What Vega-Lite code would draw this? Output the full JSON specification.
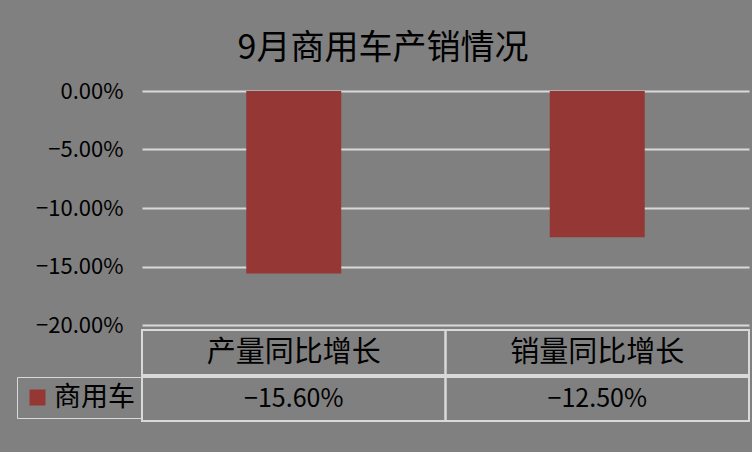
{
  "$schema": "https://vega.github.io/schema/vega-lite/v6.json",
  "background": "#808080",
  "padding": {"left": 16, "top": 32, "right": 4, "bottom": 45},
  "datasets": {
    "d": [
      {"指标": "产量同比增长", "value": -0.156, "系列": "商用车"},
      {"指标": "销量同比增长", "value": -0.125, "系列": "商用车"}
    ]
  },
  "config": {
    "view": {"stroke": null},
    "font": "Noto Sans CJK SC"
  },
  "spacing": 5,
  "bounds": "flush",
  "resolve": {"legend": {"color": "independent"}, "scale": {"color": "independent"}},
  "vconcat": [
    {
      "title": {
        "text": "9月商用车产销情况",
        "font": "Noto Sans CJK SC",
        "fontSize": 34,
        "fontWeight": "normal",
        "color": "#000000",
        "anchor": "middle",
        "frame": "bounds",
        "offset": 14
      },
      "width": 607,
      "height": 234,
      "data": {"name": "d"},
      "mark": {"type": "bar", "color": "#953735"},
      "encoding": {
        "x": {
          "field": "指标",
          "type": "nominal",
          "sort": null,
          "scale": {"paddingInner": 0.687, "paddingOuter": 0.3435},
          "axis": null
        },
        "y": {
          "field": "value",
          "type": "quantitative",
          "scale": {"domain": [-0.2, 0], "nice": false, "zero": false},
          "axis": {
            "title": null,
            "format": ".2%",
            "values": [0, -0.05, -0.1, -0.15, -0.2],
            "domain": false,
            "ticks": false,
            "grid": true,
            "gridColor": "#d9d9d9",
            "gridWidth": 2,
            "gridOpacity": 1,
            "labelFont": "Noto Sans CJK SC",
            "labelFontSize": 22,
            "labelColor": "#000000",
            "labelPadding": 19,
            "minExtent": 125,
            "maxExtent": 125
          }
        }
      }
    },
    {
      "spacing": 0,
      "resolve": {"legend": {"color": "independent"}, "scale": {"color": "independent"}},
      "vconcat": [
        {
          "width": 607,
          "height": 45,
          "data": {"name": "d"},
          "encoding": {
            "x": {"field": "指标", "type": "nominal", "sort": null, "scale": {"paddingInner": 0, "paddingOuter": 0}, "axis": null}
          },
          "layer": [
            {
              "mark": {"type": "rect", "fill": null, "fillOpacity": 0, "stroke": "#d9d9d9", "strokeWidth": 2},
              "encoding": {
                "y": {"value": 0},
                "y2": {"value": "height"}
              }
            },
            {
              "mark": {"type": "text", "baseline": "middle", "fontSize": 29, "color": "#000000"},
              "encoding": {
                "text": {"field": "指标"}
              }
            }
          ]
        },
        {
          "width": 607,
          "height": 44,
          "data": {"name": "d"},
          "encoding": {
            "x": {"field": "指标", "type": "nominal", "sort": null, "scale": {"paddingInner": 0, "paddingOuter": 0}, "axis": null}
          },
          "layer": [
            {
              "mark": {"type": "rect", "fill": null, "fillOpacity": 0, "stroke": "#d9d9d9", "strokeWidth": 2},
              "encoding": {
                "y": {"value": 0},
                "y2": {"value": "height"}
              }
            },
            {
              "mark": {"type": "text", "baseline": "middle", "fontSize": 25, "color": "#000000"},
              "encoding": {
                "text": {"field": "value", "format": ".2%"}
              }
            },
            {
              "mark": {"type": "square", "size": 0, "filled": true, "opacity": 0},
              "encoding": {
                "color": {
                  "field": "系列",
                  "type": "nominal",
                  "scale": {"range": ["#953735"]},
                  "legend": {
                    "title": null,
                    "orient": "left",
                    "offset": 0,
                    "padding": 7,
                    "strokeColor": "#d9d9d9",
                    "symbolType": "square",
                    "symbolSize": 256,
                    "symbolOpacity": 1,
                    "symbolStrokeWidth": 0,
                    "labelFont": "Noto Sans CJK SC",
                    "labelFontSize": 27,
                    "labelColor": "#000000",
                    "labelOffset": 3,
                    "labelLimit": 200
                  }
                }
              }
            }
          ]
        }
      ]
    }
  ]
}
